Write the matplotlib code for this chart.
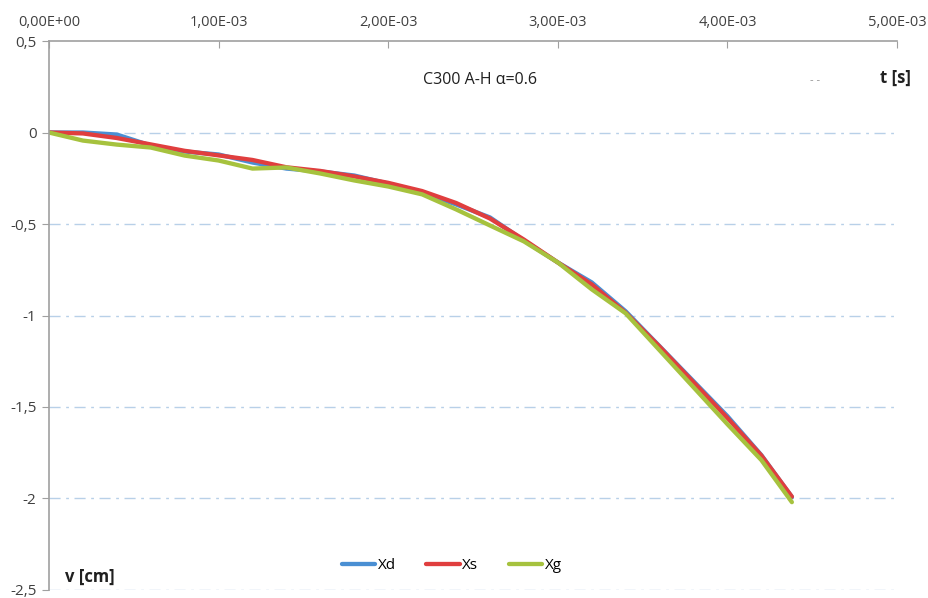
import matplotlib.pyplot as plt
import numpy as np

plt.rcParams['font.family'] = ['Open Sans', 'DejaVu Sans']

t = np.array([0, 0.2, 0.4, 0.6, 0.8, 1.0, 1.2, 1.4, 1.6, 1.8, 2.0, 2.2, 2.4,
              2.6, 2.8, 3.0, 3.2, 3.4, 3.6, 3.8, 4.0, 4.2, 4.38]) * 1e-3
xd = [0, 0, -0.011, -0.071, -0.104, -0.120, -0.164, -0.197, -0.213, -0.235,
      -0.279, -0.328, -0.393, -0.464, -0.590, -0.710, -0.819, -0.977, -1.168,
      -1.359, -1.550, -1.763, -1.992]
xs = [0, -0.005, -0.03, -0.065, -0.10, -0.125, -0.15, -0.19, -0.21, -0.24,
      -0.275, -0.32, -0.385, -0.47, -0.585, -0.71, -0.83, -0.985, -1.17,
      -1.365, -1.56, -1.765, -1.99]
xg = [0, -0.044, -0.066, -0.082, -0.126, -0.153, -0.197, -0.191, -0.224,
      -0.262, -0.295, -0.338, -0.42, -0.508, -0.595, -0.71, -0.857, -0.988,
      -1.19, -1.392, -1.594, -1.79, -2.02]

x_ticks = [0, 1e-3, 2e-3, 3e-3, 4e-3, 5e-3]
x_labels = ["0,00E+00", "1,00E-03", "2,00E-03", "3,00E-03", "4,00E-03", "5,00E-03"]
y_ticks = [0.5, 0, -0.5, -1, -1.5, -2, -2.5]
y_labels = ["0,5", "0", "-0,5", "-1", "-1,5", "-2", "-2,5"]

fig = plt.figure(figsize=(9.29, 5.98), dpi=100)
ax = fig.add_axes([0.0527, 0.0134, 0.9129, 0.918])

ax.plot(t, xd, color='#4a8fd3', lw=3.1, label='Xd', solid_capstyle='round')
ax.plot(t, xs, color='#e03e3e', lw=3.1, label='Xs', solid_capstyle='round')
ax.plot(t, xg, color='#a6c23e', lw=3.1, label='Xg', solid_capstyle='round')

ax.set_xlim(0, 5e-3)
ax.set_ylim(-2.5, 0.5)

for yv in y_ticks[1:]:
    ax.axhline(yv, color='#b8d0e8', lw=1.0, ls=(0, (8, 4, 2, 4)), zorder=0)

ax.xaxis.tick_top()
ax.set_xticks(x_ticks)
ax.set_xticklabels(x_labels)
ax.set_yticks(y_ticks)
ax.set_yticklabels(y_labels)
ax.tick_params(axis='x', direction='in', length=5, color='#a0a0a0',
               labelsize=10.5, labelcolor='#404040', pad=8)
ax.tick_params(axis='y', direction='out', length=5, color='#a0a0a0',
               labelsize=11, labelcolor='#404040', pad=4)

for side in ['right', 'bottom']:
    ax.spines[side].set_visible(False)
ax.spines['top'].set_color('#a0a0a0')
ax.spines['left'].set_color('#a0a0a0')
ax.spines['top'].set_linewidth(1.2)
ax.spines['left'].set_linewidth(1.2)

ax.text(2.54e-3, 0.285, "C300 A-H \u03b1=0.6", fontsize=11.5, ha='center',
        va='center', color='#202020')
fig.text(0.981, 0.869, "t [s]", fontsize=12, fontweight='bold', ha='right',
         va='center', color='#202020')
fig.text(0.877, 0.866, "- -", fontsize=8, ha='center', va='center',
         color='#909090')
fig.text(0.07, 0.035, "v [cm]", fontsize=12, fontweight='bold', ha='left',
         va='center', color='#202020')

ax.legend(loc='center', bbox_to_anchor=(0.475, 0.044), ncol=3, frameon=False,
          fontsize=11, handlelength=2.2, handletextpad=0.15, columnspacing=2.0)

plt.savefig('out.png', dpi=100)
